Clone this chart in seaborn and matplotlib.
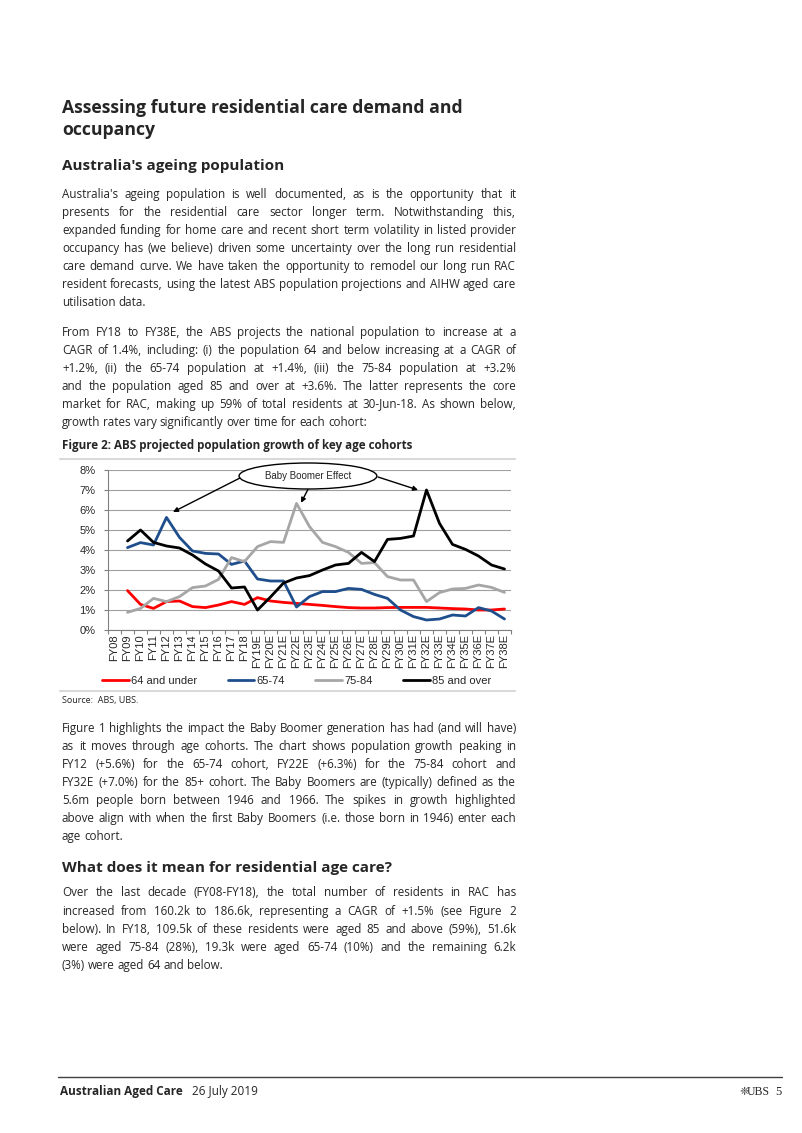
import numpy as np
import pandas as pd
import matplotlib
matplotlib.use("Agg")
import matplotlib.pyplot as plt
import seaborn as sns
from matplotlib.patches import Ellipse
from matplotlib.lines import Line2D
from matplotlib.font_manager import FontProperties

# ---------------------------------
# Data
# ---------------------------------
years = ["FY08", "FY09", "FY10", "FY11", "FY12", "FY13", "FY14", "FY15", "FY16",
         "FY17", "FY18", "FY19E", "FY20E", "FY21E", "FY22E", "FY23E", "FY24E",
         "FY25E", "FY26E", "FY27E", "FY28E", "FY29E", "FY30E", "FY31E", "FY32E",
         "FY33E", "FY34E", "FY35E", "FY36E", "FY37E", "FY38E"]

# growth values start at FY09 (no growth figure for FY08)
under_64 = [1.97, 1.28, 1.08, 1.42, 1.45, 1.17, 1.12, 1.25, 1.42, 1.28,
            1.62, 1.45, 1.38, 1.33, 1.28, 1.23, 1.17, 1.12, 1.10, 1.10,
            1.12, 1.13, 1.13, 1.13, 1.10, 1.07, 1.05, 1.00, 1.00, 1.05]
age_65_74 = [4.12, 4.37, 4.25, 5.63, 4.63, 3.95, 3.83, 3.80, 3.28, 3.45,
             2.55, 2.45, 2.45, 1.15, 1.67, 1.92, 1.92, 2.08, 2.03, 1.78,
             1.58, 1.00, 0.67, 0.50, 0.55, 0.75, 0.70, 1.12, 0.95, 0.55]
age_75_84 = [0.88, 1.08, 1.58, 1.42, 1.67, 2.12, 2.20, 2.53, 3.62, 3.42,
             4.17, 4.42, 4.38, 6.33, 5.17, 4.38, 4.17, 3.88, 3.33, 3.37,
             2.67, 2.50, 2.50, 1.42, 1.87, 2.05, 2.08, 2.25, 2.13, 1.88]
age_85_over = [4.45, 5.00, 4.38, 4.20, 4.10, 3.75, 3.30, 2.95, 2.10, 2.15,
               1.00, 1.65, 2.35, 2.60, 2.72, 3.00, 3.25, 3.33, 3.88, 3.42,
               4.53, 4.58, 4.70, 7.00, 5.33, 4.28, 4.03, 3.70, 3.25, 3.05]

cohorts = ["64 and under", "65-74", "75-84", "85 and over"]
colors = ["#FF0000", "#1F4E8C", "#A6A6A6", "#000000"]
y_ticks = [0, 1, 2, 3, 4, 5, 6, 7, 8]

rows = []
for name, vals in zip(cohorts, [under_64, age_65_74, age_75_84, age_85_over]):
    for i, v in enumerate(vals):
        rows.append({"pos": i + 1, "growth": v, "cohort": name})
df = pd.DataFrame(rows)

# ---------------------------------
# Page setup
# ---------------------------------
sns.set_theme(style="white")
plt.rcParams["font.family"] = ["Open Sans", "DejaVu Sans"]

W, H = 802, 1133
fig = plt.figure(figsize=(W / 100, H / 100), dpi=100)
renderer = fig.canvas.get_renderer()


def px(x, y):
    return x / W, 1 - y / H


def rule(x0, x1, y, color="#d9d9d9", lw=1.5):
    fig.add_artist(Line2D([x0 / W, x1 / W], [1 - y / H, 1 - y / H],
                          transform=fig.transFigure, color=color, lw=lw))


HEAD_FONT = "Open Sans"
X0, X1 = 62, 516

paragraphs = [
    (194, ["Australia's ageing population is well documented, as is the opportunity that it",
           "presents for the residential care sector longer term. Notwithstanding this,",
           "expanded funding for home care and recent short term volatility in listed provider",
           "occupancy has (we believe) driven some uncertainty over the long run residential",
           "care demand curve. We have taken the opportunity to remodel our long run RAC",
           "resident forecasts, using the latest ABS population projections and AIHW aged care",
           "utilisation data."]),
    (332, ["From FY18 to FY38E, the ABS projects the national population to increase at a",
           "CAGR of 1.4%, including: (i) the population 64 and below increasing at a CAGR of",
           "+1.2%, (ii) the 65-74 population at +1.4%, (iii) the 75-84 population at +3.2%",
           "and the population aged 85 and over at +3.6%. The latter represents the core",
           "market for RAC, making up 59% of total residents at 30-Jun-18. As shown below,",
           "growth rates vary significantly over time for each cohort:"]),
    (728, ["Figure 1 highlights the impact the Baby Boomer generation has had (and will have)",
           "as it moves through age cohorts. The chart shows population growth peaking in",
           "FY12 (+5.6%) for the 65-74 cohort, FY22E (+6.3%) for the 75-84 cohort and",
           "FY32E (+7.0%) for the 85+ cohort. The Baby Boomers are (typically) defined as the",
           "5.6m people born between 1946 and 1966. The spikes in growth highlighted",
           "above align with when the first Baby Boomers (i.e. those born in 1946) enter each",
           "age cohort."]),
    (893, ["Over the last decade (FY08-FY18), the total number of residents in RAC has",
           "increased from 160.2k to 186.6k, representing a CAGR of +1.5% (see Figure 2",
           "below). In FY18, 109.5k of these residents were aged 85 and above (59%), 51.6k",
           "were aged 75-84 (28%), 19.3k were aged 65-74 (10%) and the remaining 6.2k",
           "(3%) were aged 64 and below."]),
]
LINE_DY = 18.1
BASE_SHIFT = 3.5  # from visual line centre to text baseline


def text_width(s, size, family):
    t = fig.text(0, 0, s, fontsize=size, family=family)
    w = t.get_window_extent(renderer).width
    t.remove()
    return w


# body font: of a few humanist sans faces, take the one whose short lines come
# closest to the reference ("utilisation data." ~96 px) once the widest
# justified line is made to fit the column
best = None
for fam in ["Lato", "Roboto", "Open Sans", "Noto Sans"]:
    size = 10
    size *= 96 / text_width("utilisation data.", size, fam)
    widest = max(text_width(line, size, fam)
                 for _, lines in paragraphs for line in lines[:-1])
    if widest > (X1 - X0) * 0.99:
        size *= (X1 - X0) * 0.99 / widest
    got = text_width("utilisation data.", size, fam)
    if best is None or abs(got - 96) < best[0]:
        best = (abs(got - 96), fam, size)
BODY_FONT, body_size = best[1], best[2]


def word_baseline(word, target_row):
    """figure-y for a word so the Agg raster puts its baseline on target_row"""
    try:
        from matplotlib.backends.backend_agg import get_hinting_flag
        font = renderer._prepare_font(FontProperties(family=BODY_FONT, size=body_size))
        font.set_text(word, 0, flags=get_hinting_flag())
        _, hh = font.get_width_height()
        b = font.get_descent() / 64.0
        a = hh / 64.0 - b
        Y = target_row + np.floor(a + b) - np.floor(a) - b
        return 1 - Y / H
    except Exception:
        return 1 - target_row / H


def justified(y0, lines):
    for k, line in enumerate(lines):
        row = int(round(y0 + k * LINE_DY + BASE_SHIFT))
        words = line.split(" ")
        texts = [fig.text(0, 0, w, fontsize=body_size, family=BODY_FONT,
                          va="baseline", ha="left") for w in words]
        widths = [t.get_window_extent(renderer).width for t in texts]
        if k < len(lines) - 1:
            gap = (X1 - X0 - sum(widths)) / (len(words) - 1)
        else:
            gap = text_width("a a", body_size, BODY_FONT) - text_width("aa", body_size, BODY_FONT)
        x = X0
        for t, w, word in zip(texts, widths, words):
            t.set_position((x / W, word_baseline(word, row)))
            x += w + gap


# headings
fig.text(*px(X0, 108), "Assessing future residential care demand and",
         fontsize=12.7, fontweight="bold", family=HEAD_FONT, va="center")
fig.text(*px(X0, 130), "occupancy",
         fontsize=12.7, fontweight="bold", family=HEAD_FONT, va="center")
fig.text(*px(X0, 166), "Australia's ageing population",
         fontsize=11, fontweight="bold", family=HEAD_FONT, va="center")
fig.text(*px(X0, 868), "What does it mean for residential age care?",
         fontsize=11, fontweight="bold", family=HEAD_FONT, va="center")

for y0, lines in paragraphs:
    justified(y0, lines)

# figure caption + rules
fig.text(*px(X0, 445), "Figure 2: ABS projected population growth of key age cohorts",
         fontsize=8.4, fontweight="bold", family=HEAD_FONT, va="center")
rule(60, 515, 459)
rule(60, 515, 691)
fig.text(*px(X0, 701), "Source:  ABS, UBS.", fontsize=6.5, family=HEAD_FONT,
         va="center", color="#222222")

# footer
rule(58, 782, 1077, color="#404040", lw=1.0)
fig.text(*px(60, 1092), "Australian Aged Care", fontsize=8.5, fontweight="bold",
         family=HEAD_FONT, va="center")
fig.text(*px(192, 1092), "26 July 2019", fontsize=8.5, family=HEAD_FONT, va="center")
fig.text(*px(782, 1092), "5", fontsize=9, family="Liberation Serif",
         va="center", ha="right")
fig.text(*px(770, 1092), "UBS", fontsize=8.5, family="Liberation Serif",
         va="center", ha="right")
fig.text(*px(749, 1092), "\u2748", fontsize=8, family="DejaVu Sans",
         va="center", ha="right", color="#333333")

# ---------------------------------
# Chart
# ---------------------------------
ax = fig.add_axes([108 / W, 1 - 630 / H, 403 / W, 160 / H])
sns.lineplot(data=df, x="pos", y="growth", hue="cohort", hue_order=cohorts,
             palette=colors, linewidth=2.0, ax=ax, zorder=3)

ax.set_xlim(-0.5, len(years) - 0.5)
ax.set_ylim(0, 8)
ax.set_xticks(range(len(years)))
ax.set_xticklabels(years, rotation=90, family="Liberation Sans", fontsize=8)
ax.set_xticks(np.arange(-0.5, len(years), 1), minor=True)
ax.set_yticks(y_ticks)
ax.set_yticklabels([f"{v}%" for v in y_ticks], family="Liberation Sans", fontsize=8)
ax.tick_params(axis="x", which="major", length=0, pad=3)
ax.tick_params(axis="x", which="minor", length=3, width=0.8, color="#808080",
               direction="out", bottom=True)
ax.tick_params(axis="y", length=3, width=0.8, color="#808080", direction="out",
               left=True, pad=6)
ax.set_xlabel("")
ax.set_ylabel("")
ax.grid(axis="y", color="#a0a0a0", lw=0.8)
ax.grid(axis="x", visible=False)
for s in ["top", "right"]:
    ax.spines[s].set_visible(False)
for s in ["left", "bottom"]:
    ax.spines[s].set_color("#808080")
    ax.spines[s].set_linewidth(0.8)
ax.set_facecolor("none")

# legend below the axis
leg = ax.legend(loc="center left", bbox_to_anchor=(-0.015, -0.317), ncol=4,
                frameon=False, borderpad=0, borderaxespad=0, handlelength=2.4,
                handletextpad=0.2, columnspacing=2.75,
                prop={"family": "Liberation Sans", "size": 8})
for line in leg.get_lines():
    line.set_linewidth(2.0)

# "Baby Boomer Effect" callout
ell = Ellipse((14.88, 7.7), 10.6, 1.3, facecolor="white", edgecolor="black",
              lw=1.0, clip_on=False, zorder=5)
ax.add_patch(ell)
ax.text(14.88, 7.7, "Baby Boomer Effect", ha="center", va="center",
        family="Liberation Sans", fontsize=7, zorder=6)

peaks = []
for vals in [age_65_74, age_75_84, age_85_over]:
    i = int(np.argmax(vals))
    peaks.append((i + 1, vals[i]))
starts = [(9.65, 7.6), (14.88, 7.03), (20.27, 7.65)]
offsets = [(0.5, 0.27), (0.35, 0.03), (-0.65, 0.0)]
for (px_, py_), (sx, sy), (ox, oy) in zip(peaks, starts, offsets):
    ax.annotate("", xy=(px_ + ox, py_ + oy), xytext=(sx, sy),
                arrowprops=dict(arrowstyle="-|>", color="black", lw=1.0,
                                mutation_scale=7, shrinkA=0, shrinkB=0),
                zorder=6)

fig.savefig("out.png", dpi=100)
